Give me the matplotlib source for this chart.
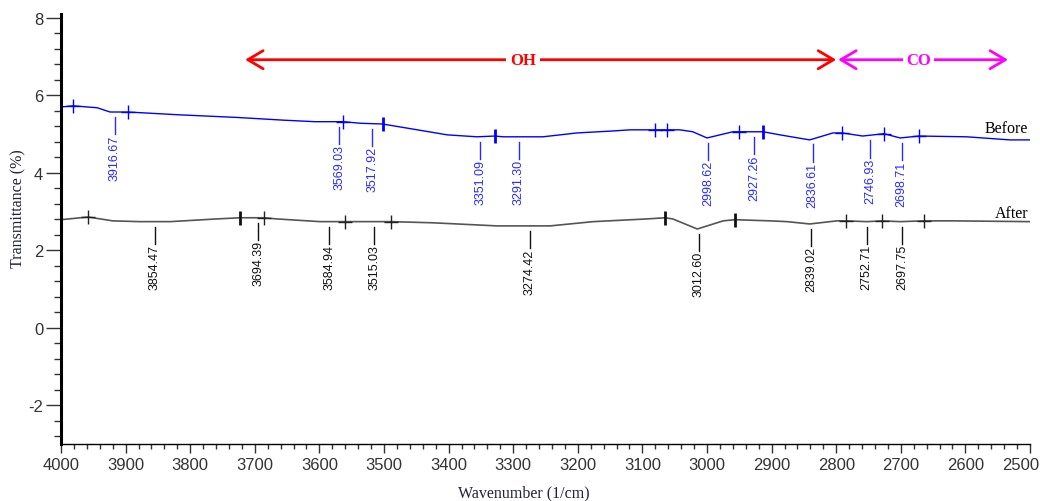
import numpy as np
from matplotlib import pyplot as plt
from matplotlib.ticker import MultipleLocator, FuncFormatter

plt.rcParams['axes.unicode_minus'] = False

# FTIR spectra before / after
before_wn = [4000, 3981, 3944, 3924, 3896, 3820, 3728, 3656, 3607, 3563, 3537, 3502,
             3402, 3356, 3328, 3316, 3254, 3201, 3146, 3119, 3080, 3062, 3042, 3022,
             3000, 2960, 2950, 2913, 2887, 2841, 2805, 2791, 2759, 2726, 2701, 2672,
             2598, 2531, 2500]
before_T = [5.70, 5.73, 5.68, 5.57, 5.57, 5.50, 5.43, 5.36, 5.32, 5.32, 5.28, 5.26,
            4.98, 4.93, 4.95, 4.93, 4.93, 5.03, 5.08, 5.11, 5.11, 5.11, 5.11, 5.06,
            4.90, 5.06, 5.06, 5.06, 4.98, 4.85, 5.03, 5.03, 4.95, 5.01, 4.90, 4.95,
            4.93, 4.85, 4.85]

after_wn = [4000, 3958, 3920, 3878, 3831, 3759, 3723, 3686, 3666, 3599, 3560, 3489,
            3424, 3325, 3243, 3176, 3093, 3065, 3053, 3015, 2975, 2957, 2902, 2876,
            2841, 2799, 2785, 2752, 2729, 2701, 2664, 2619, 2500]
after_T = [2.79, 2.86, 2.76, 2.74, 2.74, 2.81, 2.84, 2.84, 2.81, 2.74, 2.74, 2.74,
           2.71, 2.63, 2.63, 2.74, 2.81, 2.84, 2.81, 2.55, 2.76, 2.79, 2.76, 2.74,
           2.68, 2.76, 2.76, 2.74, 2.76, 2.74, 2.76, 2.76, 2.74]

# cursor marks on the curves
before_plus = [3981, 3896, 3563, 3062, 3080, 2950, 2791, 2726, 2672]
before_bold = [3502, 3328, 2913]
after_plus = [3958, 3686, 3560, 3489, 2785, 2729, 2664]
after_bold = [3723, 3065, 2957]

# peak labels
before_peaks = [3916.67, 3569.03, 3517.92, 3351.09, 3291.30, 2998.62, 2927.26,
                2836.61, 2746.93, 2698.71]
after_peaks = [3854.47, 3694.39, 3584.94, 3515.03, 3274.42, 3012.60, 2839.02,
               2752.71, 2697.75]

fig = plt.figure(figsize=(10.4, 5.02), dpi=100)
ax = fig.add_axes([61/1040, 1-445/502, 969/1040, 430/502])

blue = '#0000ff'
grey = '#555555'
ax.plot(before_wn, before_T, color=blue, lw=1.0)
ax.plot(after_wn, after_T, color=grey, lw=1.2)

bw = np.array(before_wn)[::-1]; bt = np.array(before_T)[::-1]
aw = np.array(after_wn)[::-1]; at = np.array(after_T)[::-1]
ax.plot(before_plus, np.interp(before_plus, bw, bt), ls='none', marker='+', ms=10, mew=1, color=blue)
ax.plot(before_bold, np.interp(before_bold, bw, bt), ls='none', marker='|', ms=10, mew=2, color=blue)
ax.plot(after_plus, np.interp(after_plus, aw, at), ls='none', marker='+', ms=10, mew=1, color='#222222')
ax.plot(after_bold, np.interp(after_bold, aw, at), ls='none', marker='|', ms=10, mew=2, color='#111111')

def peak_labels(peaks, xs, ys, col):
    for p in peaks:
        yc = np.interp(p, xs, ys)
        ax.plot([p, p], [yc - 0.13, yc - 0.58], color=col, lw=1)
        ax.text(p, yc - 0.58, '%.2f' % p, rotation=90, ha='center', va='top',
                fontsize=9, color=col, family='Liberation Sans')

peak_labels(before_peaks, bw, bt, '#2a2aff')
peak_labels(after_peaks, aw, at, '#111111')

ax.text(2503, 5.06, 'Before', ha='right', va='baseline', fontsize=11.5, family='Liberation Serif')
ax.text(2503, 2.86, 'After', ha='right', va='baseline', fontsize=11.5, family='Liberation Serif')

# region arrows
ax.annotate('', xy=(3715, 6.92), xytext=(2800, 6.92),
            arrowprops=dict(arrowstyle='<->,head_length=1.1,head_width=0.65', color='red',
                            lw=2, shrinkA=0, shrinkB=0))
ax.annotate('', xy=(2797, 6.92), xytext=(2534, 6.92),
            arrowprops=dict(arrowstyle='<->,head_length=1.1,head_width=0.65', color='#ff00ff',
                            lw=2, shrinkA=0, shrinkB=0))
ax.text(3285, 6.92, 'OH', ha='center', va='center', color='red', fontsize=12, fontweight='bold',
        family='Liberation Serif', bbox=dict(fc='white', ec='none', pad=3))
ax.text(2673, 6.92, 'CO', ha='center', va='center', color='#ff00ff', fontsize=12, fontweight='bold',
        family='Liberation Serif', bbox=dict(fc='white', ec='none', pad=2))

ax.set_xlim(4000, 2500)
ax.set_ylim(-3, 8.1)
ax.xaxis.set_major_locator(MultipleLocator(100))
ax.xaxis.set_minor_locator(MultipleLocator(20))
ax.yaxis.set_major_locator(MultipleLocator(2))
ax.yaxis.set_minor_locator(MultipleLocator(0.4))
# last x label is drawn by hand, nudged left so it stays inside the figure
ax.xaxis.set_major_formatter(FuncFormatter(lambda v, p: '' if abs(v - 2500) < 1 else '%d' % v))
ax.annotate('2500', xy=(2500, 0), xycoords=('data', 'axes fraction'), xytext=(-6.5, -9.5),
            textcoords='offset points', ha='center', va='top', fontsize=12,
            color='#333333', family='Liberation Sans')

for s in ['top', 'right']:
    ax.spines[s].set_visible(False)
ax.spines['left'].set_linewidth(2.2)
ax.spines['bottom'].set_linewidth(1.0)

ax.tick_params(axis='x', which='major', length=6.5, width=1, labelsize=12, pad=3,
               color='#333333', labelcolor='#333333')
ax.tick_params(axis='x', which='minor', length=3.6, width=1, color='#333333')
ax.tick_params(axis='y', which='major', length=10.8, width=1, labelsize=12, pad=2,
               color='#333333', labelcolor='#333333')
ax.tick_params(axis='y', which='minor', length=5.4, width=1, color='#333333')
for lab in ax.get_xticklabels() + ax.get_yticklabels():
    lab.set_family('Liberation Sans')

ax.set_xlabel('Wavenumber (1/cm)', fontsize=11.5, family='Liberation Serif', color='#222233')
ax.xaxis.set_label_coords(0.478, -0.112)
ax.set_ylabel('Transmittance (%)', fontsize=11.5, family='Liberation Serif', color='#222233')
ax.yaxis.set_label_coords(-0.0444, 0.549)
ax.xaxis.label.set_va('center')
ax.yaxis.label.set_va('center')

fig.savefig('out.png', dpi=100)
